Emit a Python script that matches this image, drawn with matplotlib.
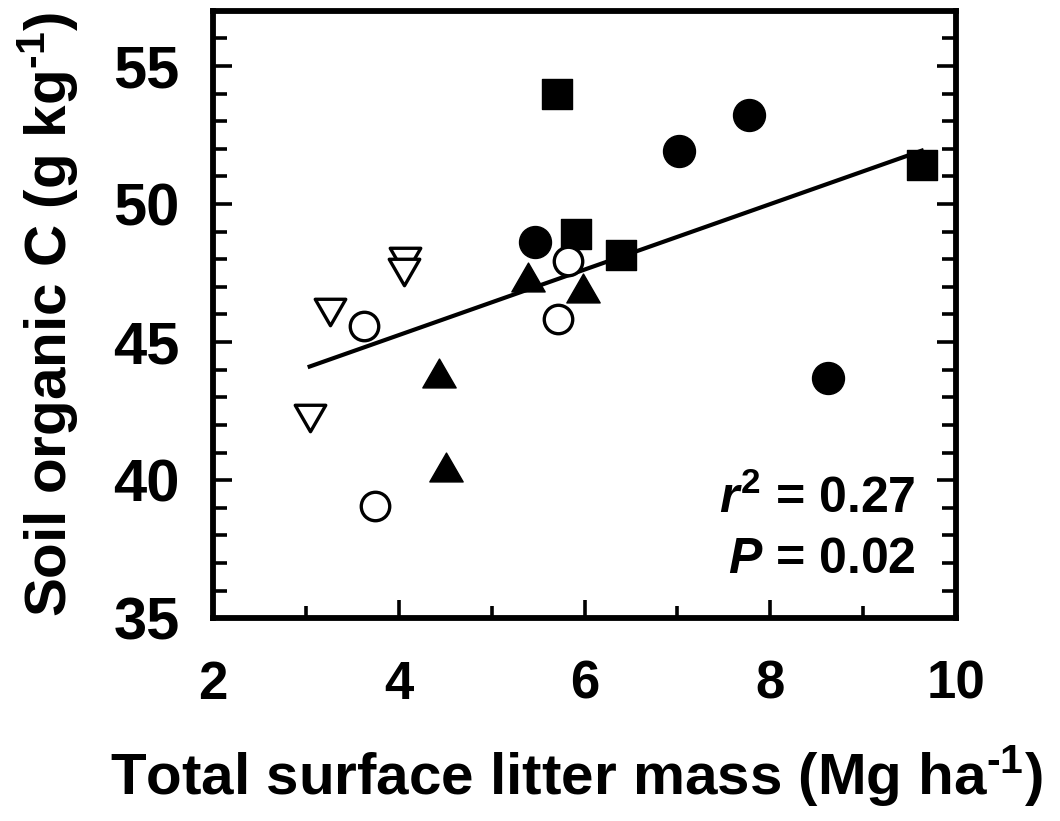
import numpy as np
import matplotlib
matplotlib.use("Agg")
import matplotlib.pyplot as plt
from matplotlib.markers import MarkerStyle
from matplotlib.path import Path

# litter mass (Mg/ha) vs soil organic C (g/kg), five treatment groups
sq_x = [5.70, 5.91, 6.39, 9.63]
sq_y = [54.0, 48.9, 48.15, 51.4]
fc_x = [5.47, 7.02, 7.77, 8.62]
fc_y = [48.62, 51.92, 53.22, 43.70]
tri_x = [4.43, 4.51, 5.39, 5.98]
tri_y = [43.88, 40.47, 47.36, 46.97]
oc_x = [3.63, 3.74, 5.82, 5.71]
oc_y = [45.58, 39.06, 47.93, 45.83]
dt_x = [3.04, 3.26, 4.07, 4.06]
dt_y = [42.25, 46.10, 47.95, 47.52]

stats_text = ["$\\mathit{r}^{2}$ = 0.27", "$\\mathit{P}$ = 0.02"]

plt.rcParams['font.family'] = ['Liberation Sans', 'DejaVu Sans']
plt.rcParams['font.weight'] = 'bold'
plt.rcParams['mathtext.fontset'] = 'custom'
plt.rcParams['mathtext.rm'] = 'Liberation Sans:bold'
plt.rcParams['mathtext.it'] = 'Liberation Sans:italic:bold'
plt.rcParams['mathtext.bf'] = 'Liberation Sans:bold'

fig = plt.figure(figsize=(10.6, 8.21), dpi=100)
ax = fig.add_axes([0.201, 0.247, 0.701, 0.740])

all_x = np.array(sq_x + fc_x + tri_x + oc_x + dt_x)
all_y = np.array(sq_y + fc_y + tri_y + oc_y + dt_y)
slope, icpt = np.polyfit(all_x, all_y, 1)
xx = np.array([all_x.min(), all_x.max()])
ax.plot(xx, slope * xx + icpt, color='black', lw=3, zorder=2)

tri_up = Path([(0, 0.866), (-1, -0.866), (1, -0.866), (0, 0.866)], closed=True)
tri_dn = Path([(0, -0.866), (-1, 0.866), (1, 0.866), (0, -0.866)], closed=True)

def mk(m):
    return MarkerStyle(m, joinstyle='round')

ax.plot(sq_x, sq_y, ls='none', marker=mk('s'), ms=21, mfc='black', mec='black', mew=1, zorder=3)
ax.plot(fc_x, fc_y, ls='none', marker=mk('o'), ms=23, mfc='black', mec='black', mew=1, zorder=3)
ax.plot(tri_x, tri_y, ls='none', marker=mk(tri_up), ms=24, mfc='black', mec='black', mew=1, zorder=3)
ax.plot(oc_x, oc_y, ls='none', marker=mk('o'), ms=20.5, mfc='white', mec='black', mew=2.4, zorder=4)
ax.plot(dt_x, dt_y, ls='none', marker=mk(tri_dn), ms=22, mfc='white', mec='black', mew=2.4, zorder=4)

ax.set_xlim(2, 10)
ax.set_ylim(35, 57)
ax.set_xticks([2, 4, 6, 8, 10])
ax.set_xticks([3, 5, 7, 9], minor=True)
ax.set_yticks([35, 40, 45, 50, 55])
ax.set_yticks(np.arange(36, 57, 1), minor=True)

for s in ax.spines.values():
    s.set_linewidth(4.2)

ax.tick_params(axis='y', which='both', direction='in', left=True, right=True, width=2.6, pad=24)
ax.tick_params(axis='y', which='major', length=13.5)
ax.tick_params(axis='y', which='minor', length=10)
ax.tick_params(axis='x', which='both', direction='in', top=False, bottom=True, width=2.6, pad=30)
ax.tick_params(axis='x', which='major', length=13)
ax.tick_params(axis='x', which='minor', length=9)

for lab in ax.get_yticklabels():
    lab.set_fontsize(43)
    lab.set_fontweight('bold')
for lab in ax.get_xticklabels():
    lab.set_fontsize(38)
    lab.set_fontweight('bold')

ax.set_ylabel("Soil organic C (g kg$^{\\text{-1}}$)", fontsize=42, fontweight='bold')
ax.yaxis.set_label_coords(-0.179, 0.5)
ax.set_xlabel("Total surface litter mass (Mg ha$^{\\text{-1}}$)", fontsize=42, fontweight='bold')
ax.xaxis.set_label_coords(0.489, -0.205)

ax.text(0.945, 0.1727, stats_text[0], transform=ax.transAxes, ha='right', va='baseline',
        fontsize=36, fontweight='bold')
ax.text(0.945, 0.074, stats_text[1], transform=ax.transAxes, ha='right', va='baseline',
        fontsize=36, fontweight='bold')

fig.savefig("out.png", dpi=100)
